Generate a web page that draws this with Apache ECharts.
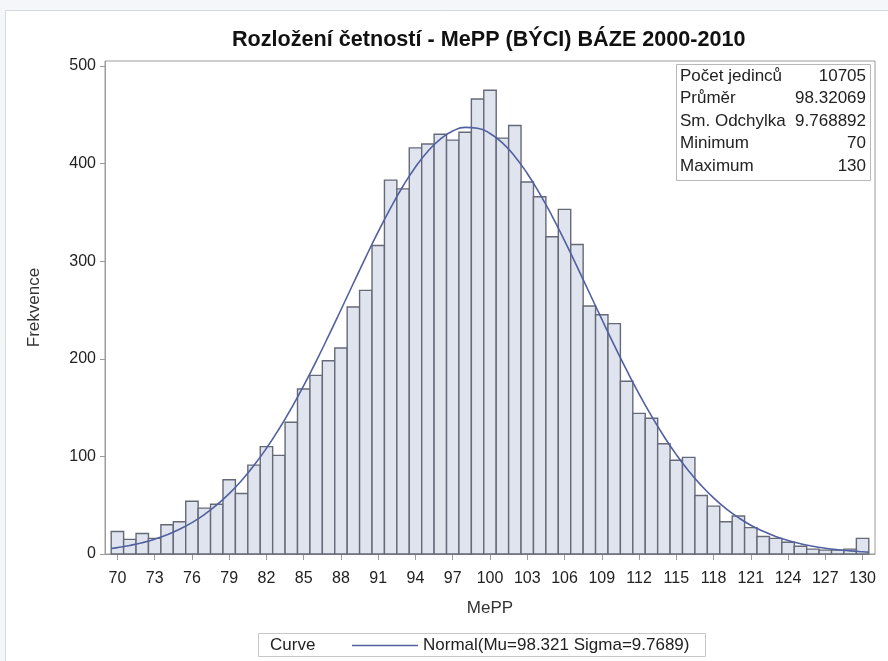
<!DOCTYPE html>
<html>
<head>
<meta charset="utf-8">
<script src="https://cdn.jsdelivr.net/npm/echarts@6/dist/echarts.min.js"></script>
<style>
  html, body { margin: 0; padding: 0; background: #f5f6fa; }
  #chart { width: 888px; height: 661px; }
</style>
</head>
<body>
<div id="chart"></div>
<script>
// Histogram bins (MePP value at bin centre) and their frequencies
const mepp = [70, 71, 72, 73, 74, 75, 76, 77, 78, 79,
              80, 81, 82, 83, 84, 85, 86, 87, 88, 89,
              90, 91, 92, 93, 94, 95, 96, 97, 98, 99,
              100, 101, 102, 103, 104, 105, 106, 107, 108, 109,
              110, 111, 112, 113, 114, 115, 116, 117, 118, 119,
              120, 121, 122, 123, 124, 125, 126, 127, 128, 129, 130];
const frekvence = [23, 15, 21, 16, 30, 33, 54, 47, 51, 76,
                   62, 91, 110, 101, 135, 169, 183, 198, 211, 253,
                   270, 316, 383, 374, 416, 420, 430, 424, 432, 466,
                   475, 426, 439, 381, 366, 325, 353, 317, 254, 245,
                   236, 177, 144, 139, 113, 96, 99, 60, 49, 33,
                   39, 27, 18, 16, 12, 8, 5, 4, 4, 5, 16];

// Fitted normal curve (Mu=98.321, Sigma=9.7689), scaled to counts
const curveX = [69.5, 70, 71, 72, 73, 74, 75, 76, 77, 78, 79,
                80, 81, 82, 83, 84, 85, 86, 87, 88, 89,
                90, 91, 92, 93, 94, 95, 96, 97, 98, 99,
                100, 101, 102, 103, 104, 105, 106, 107, 108, 109,
                110, 111, 112, 113, 114, 115, 116, 117, 118, 119,
                120, 121, 122, 123, 124, 125, 126, 127, 128, 129, 130, 130.5];
const curveY = [5.63, 6.54, 8.76, 11.60, 15.20, 19.71, 25.31, 32.13, 40.38, 50.23, 61.83,
                75.32, 90.80, 108.29, 127.80, 149.25, 172.56, 197.37, 223.38, 250.21, 277.33,
                304.16, 330.17, 354.62, 376.95, 396.46, 412.64, 425.05, 433.23, 436.96, 436.14,
                430.79, 421.07, 407.27, 389.81, 369.22, 346.09, 321.0, 294.6, 267.6, 240.5,
                213.9, 188.3, 164.0, 141.4, 120.6, 101.8, 85.0, 70.3, 57.5, 46.5,
                37.3, 29.5, 23.2, 18.0, 13.8, 10.5, 7.90, 5.88, 4.33, 3.16, 2.28, 1.93];

// Axis tick labels
const xTicks = [70, 73, 76, 79, 82, 85, 88, 91, 94, 97, 100, 103, 106, 109, 112, 115, 118, 121, 124, 127, 130];
const yTicks = [0, 100, 200, 300, 400, 500];

// Summary statistics table
const statLabels = ['Počet jedinců', 'Průměr', 'Sm. Odchylka', 'Minimum', 'Maximum'];
const statValues = ['10705', '98.32069', '9.768892', '70', '130'];

const curveName = 'Normal(Mu=98.321 Sigma=9.7689)';
const FONT = '"Liberation Sans", Arial, sans-serif';
const CURVE_COLOR = '#5160a0';

const chart = echarts.init(document.getElementById('chart'), null, { renderer: 'canvas' });

const statsGraphics = [];
statLabels.forEach(function (lab, i) {
  const y = 76 + i * 22.5;
  statsGraphics.push({
    type: 'text', x: 680, y: y, z: 20,
    style: { text: lab, fontFamily: FONT, fontSize: 17, fill: '#222', align: 'left', verticalAlign: 'middle' }
  });
  statsGraphics.push({
    type: 'text', x: 866, y: y, z: 20,
    style: { text: statValues[i], fontFamily: FONT, fontSize: 17, fill: '#222', align: 'right', verticalAlign: 'middle' }
  });
});

const option = {
  backgroundColor: '#f5f6fa',
  animation: false,
  textStyle: { fontFamily: FONT },
  title: {
    text: 'Rozložení četností - MePP (BÝCI) BÁZE 2000-2010',
    left: 227,
    top: 24,
    textStyle: { fontFamily: FONT, fontSize: 21.6, fontWeight: 'bold', color: '#111' }
  },
  grid: {
    left: 105, right: 13, top: 61, bottom: 107,
    show: true, backgroundColor: '#ffffff', borderColor: '#9c9c9c', borderWidth: 1
  },
  legend: {
    left: 347, top: 632, z: 20,
    icon: 'rect',
    itemWidth: 66, itemHeight: 1.6,
    itemGap: 10,
    data: [curveName],
    itemStyle: { color: CURVE_COLOR },
    textStyle: { fontFamily: FONT, fontSize: 17, color: '#222' },
    selectedMode: false
  },
  xAxis: {
    type: 'value', min: 69, max: 131,
    name: 'MePP', nameLocation: 'middle', nameGap: 46,
    nameTextStyle: { fontFamily: FONT, fontSize: 17, color: '#333' },
    axisLine: { show: true, lineStyle: { color: '#9c9c9c' } },
    axisTick: { show: true, length: 6, customValues: xTicks, lineStyle: { color: '#9c9c9c' } },
    axisLabel: { customValues: xTicks, fontSize: 16, color: '#222', margin: 17, fontFamily: FONT },
    splitLine: { show: false }
  },
  yAxis: {
    type: 'value', min: 0, max: 505,
    name: 'Frekvence', nameLocation: 'middle', nameGap: 62,
    nameTextStyle: { fontFamily: FONT, fontSize: 17, color: '#333' },
    axisLine: { show: true, lineStyle: { color: '#9c9c9c' } },
    axisTick: { show: true, length: 5, customValues: yTicks, lineStyle: { color: '#9c9c9c' } },
    axisLabel: { customValues: yTicks, fontSize: 16, color: '#222', margin: 9, fontFamily: FONT },
    splitLine: { show: false }
  },
  series: [
    {
      type: 'custom',
      name: 'Frekvence',
      data: mepp.map(function (m, i) { return [m, frekvence[i]]; }),
      encode: { x: 0, y: 1 },
      z: 2,
      renderItem: function (params, api) {
        const x = api.value(0);
        const v = api.value(1);
        const tl = api.coord([x - 0.5, v]);
        const br = api.coord([x + 0.5, 0]);
        return {
          type: 'rect',
          shape: { x: tl[0], y: tl[1], width: br[0] - tl[0], height: br[1] - tl[1] },
          style: { fill: '#dfe4ee', stroke: '#666a78', lineWidth: 1.4 }
        };
      }
    },
    {
      type: 'line',
      name: curveName,
      data: curveX.map(function (x, i) { return [x, curveY[i]]; }),
      smooth: true,
      symbol: 'none',
      z: 5,
      lineStyle: { color: CURVE_COLOR, width: 1.6 },
      itemStyle: { color: CURVE_COLOR }
    }
  ],
  graphic: [
    {
      type: 'rect', z: -100, silent: true,
      shape: { x: 5.5, y: 10.5, width: 900, height: 700 },
      style: { fill: '#ffffff', stroke: '#d6d8dd', lineWidth: 1 }
    },
    {
      type: 'rect', z: 10,
      shape: { x: 676.5, y: 64.5, width: 194, height: 116 },
      style: { fill: '#ffffff', stroke: '#b8b8b8', lineWidth: 1 }
    },
    {
      type: 'rect', z: 1,
      shape: { x: 258.5, y: 633.5, width: 447, height: 23 },
      style: { fill: '#ffffff', stroke: '#c8c8c8', lineWidth: 1 }
    },
    {
      type: 'text', x: 270, y: 645, z: 20,
      style: { text: 'Curve', fontFamily: FONT, fontSize: 17, fill: '#222', align: 'left', verticalAlign: 'middle' }
    }
  ].concat(statsGraphics)
};

chart.setOption(option);
</script>
</body>
</html>
